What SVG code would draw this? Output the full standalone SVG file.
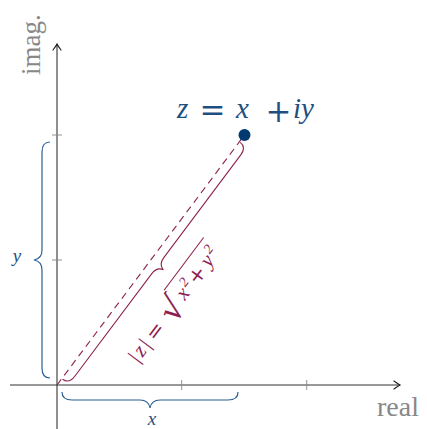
<svg xmlns="http://www.w3.org/2000/svg" width="427" height="429" viewBox="0 0 427 429">
<defs>
<marker id="arr" markerUnits="userSpaceOnUse" markerWidth="12" markerHeight="12" refX="0" refY="0" viewBox="-8 -6 10 12" orient="auto" overflow="visible">
<path d="M-6,-4 Q-2,-1 0,0 Q-2,1 -6,4" fill="none" stroke="#222" stroke-width="1.2" stroke-linecap="round"/>
</marker>
</defs>
<style>
.axis{stroke:#333;stroke-width:1.1;fill:none}
.tick{stroke:#888;stroke-width:0.9}
.blue{stroke:#2a5f94;stroke-width:1.2;fill:none}
.red{stroke:#8c2150;stroke-width:1.1;fill:none}
.gray{font-family:"Liberation Serif",serif;fill:#888}
.m{font-family:"Liberation Serif",serif;font-style:italic}
.r{font-family:"Liberation Serif",serif}
.op{font-family:"DejaVu Serif",serif;text-anchor:middle}
.bt{fill:#1f4f80}
.rt{fill:#8c2150}
</style>
<rect width="427" height="429" fill="#fff"/>
<g id="axes">
<line class="axis" x1="10" y1="385" x2="400" y2="385" marker-end="url(#arr)"/>
<line class="axis" x1="57" y1="429" x2="57" y2="44" marker-end="url(#arr)"/>
<line class="tick" x1="181.7" y1="380" x2="181.7" y2="390"/>
<line class="tick" x1="306.7" y1="380" x2="306.7" y2="390"/>
<line class="tick" x1="52" y1="260" x2="62" y2="260"/>
<line class="tick" x1="52" y1="135" x2="62" y2="135"/>
<text class="gray" x="377" y="416" font-size="28">real</text>
<text class="gray" font-size="27" transform="translate(40,75) rotate(-90)">imag.</text>
</g>
<g id="connectors">
<line class="red" x1="57" y1="385" x2="244.5" y2="135" stroke-dasharray="7 5"/>
</g>
<g id="point">
<circle cx="244.5" cy="135" r="6" fill="#003a70"/>
<text class="bt m" y="118" font-size="29"><tspan x="177">z</tspan><tspan x="236">x</tspan><tspan x="293">iy</tspan></text>
<text class="bt op" x="212.5" y="121" font-size="31">=</text>
<text class="bt op" x="278.5" y="122" font-size="31">+</text>
</g>
<g id="brace-x">
<path class="blue" d="M62,392 C62,397 65,400 72,400 L140,400 C146,400 149,402 150,408 C151,402 154,400 160,400 L228,400 C235,400 238,397 238,392"/>
<text class="m bt" x="152" y="425" font-size="19" text-anchor="middle">x</text>
</g>
<g id="brace-y">
<path class="blue" d="M50,142 C45,142 42,145 42,152 L42,250 C42,256 40,259 34,260 C40,261 42,264 42,270 L42,368 C42,375 45,378 50,378"/>
<text class="m bt" x="17" y="262" font-size="19" text-anchor="middle">y</text>
</g>
<g id="brace-modulus" transform="translate(57,385) rotate(-53.13)">
<path class="red" d="M8,1 C8,6 11,9 18,9 L146,9 C152,9 155,11 156,16 C157,11 160,9 166,9 L294,9 C301,9 304,6 304,1"/>
<text class="rt r" y="52" font-size="21"><tspan x="66">|</tspan><tspan class="m" x="73">z</tspan><tspan x="84">|</tspan></text>
<text class="rt op" x="102" y="53" font-size="21">=</text>
<text class="rt" x="119" y="57.8" font-size="34" style="font-family:'DejaVu Serif',serif">√</text>
<line x1="140" y1="28.8" x2="206" y2="28.8" stroke="#8c2150" stroke-width="1.1"/>
<text class="rt m" y="52" font-size="21"><tspan x="144">x</tspan><tspan class="r" x="155" y="44" font-size="14">2</tspan><tspan x="185" y="52">y</tspan><tspan class="r" x="196" y="44" font-size="14">2</tspan></text>
<text class="rt op" x="172" y="53" font-size="21">+</text>
</g>
</svg>
